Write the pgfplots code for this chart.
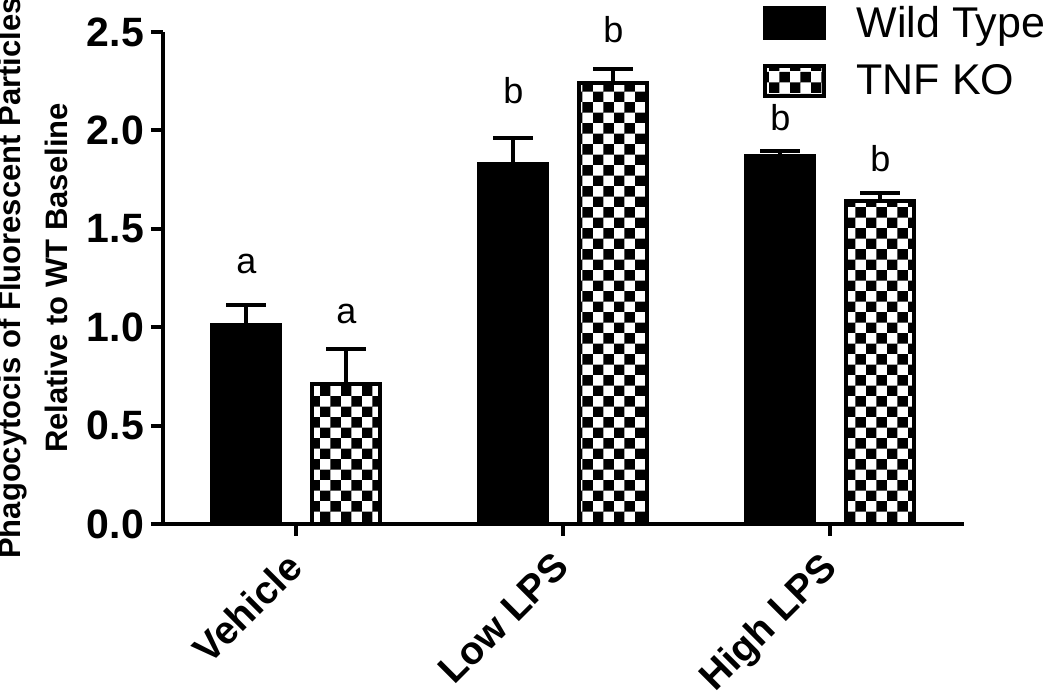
\documentclass[border=0pt]{standalone}
\usepackage{fontspec}
\setmainfont{Liberation Sans}
\usepackage{pgfplots}
\pgfplotsset{compat=1.18}
\usetikzlibrary{patterns}
\pgfdeclarepatternformonly{bigcheck}{\pgfpointorigin}{\pgfqpoint{10.7pt}{10.7pt}}{\pgfqpoint{10.7pt}{10.7pt}}{%
  \pgfpathrectangle{\pgfpointorigin}{\pgfqpoint{5.35pt}{5.35pt}}%
  \pgfpathrectangle{\pgfqpoint{5.35pt}{5.35pt}}{\pgfqpoint{5.35pt}{5.35pt}}%
  \pgfusepath{fill}}
\begin{document}
\begin{tikzpicture}
\begin{axis}[
  scale only axis, width=400.5pt, height=246pt,
  xmin=-0.5, xmax=2.5, ymin=0, ymax=2.5,
  axis x line*=bottom, axis y line*=left,
  axis line style={line width=2pt, black},
  ybar, bar width=34pt,
  clip=false,
  ytick={0,0.5,1,1.5,2,2.5},
  /pgf/number format/assume math mode=true,
  yticklabel style={/pgf/number format/.cd, fixed, fixed zerofill, precision=1},
  tick label style={font=\bfseries\fontsize{20.5}{20.5}\selectfont},
  xtick={0,1,2},
  xticklabels={Vehicle,Low LPS,High LPS},
  xticklabel style={font=\bfseries\fontsize{19.5}{19.5}\selectfont, xshift=-6pt, yshift=-4pt, rotate=45, anchor=north east, inner sep=2pt},
  tick align=outside, major tick length=6pt,
  major tick style={line width=2pt, black},
  ylabel={Phagocytocis of Fluorescent Particles\\Relative to WT Baseline},
  ylabel style={font=\bfseries\fontsize{15.5}{23.5}\selectfont, align=center, at={(axis description cs:-0.163,0.5)}, anchor=center},
  legend style={draw=none, fill=none, at={(rel axis cs:0.748,1.062)}, anchor=north west,
    inner sep=0pt, row sep=8pt, font=\fontsize{21.5}{21.5}\selectfont,
    nodes={inner sep=2pt, anchor=west}},
  legend cell align=left,
  legend image code/.code={\draw[#1, line width=2pt] (0pt,-7.5pt) rectangle (29.5pt,7.5pt); \path (43pt,0pt);},
]
\addplot[bar shift=-25pt, fill=black, draw=black, line width=2pt,
  error bars/.cd, y dir=plus, y explicit,
  error bar style={line width=2pt, black},
  error mark options={rotate=90, mark size=10pt, line width=2pt, black}]
  coordinates {(0,1.01) +- (0,0.105) (1,1.83) +- (0,0.13) (2,1.87) +- (0,0.025)};
\addplot[bar shift=25pt, fill=white, draw=black, line width=2pt, postaction={pattern=bigcheck},
  error bars/.cd, y dir=plus, y explicit,
  error bar style={line width=2pt, black},
  error mark options={rotate=90, mark size=10pt, line width=2pt, black}]
  coordinates {(0,0.71) +- (0,0.18) (1,2.24) +- (0,0.07) (2,1.64) +- (0,0.04)};
\legend{Wild Type, TNF KO}
\begin{scope}[every node/.style={font=\fontsize{18}{18}\selectfont, anchor=base, inner sep=0pt}]
\node at (axis cs:-0.1873,1.274) {a};
\node at (axis cs:0.1873,1.02) {a};
\node at (axis cs:0.8127,2.137) {b};
\node at (axis cs:1.1873,2.447) {b};
\node at (axis cs:1.8127,2.0) {b};
\node at (axis cs:2.1873,1.79) {b};
\end{scope}
\coordinate (bbll) at (rel axis cs:-0.2035,-0.3415);
\coordinate (bbur) at (rel axis cs:1.1074,1.065);
\end{axis}
\pgfresetboundingbox
\path[use as bounding box] (bbll) rectangle (bbur);
\end{tikzpicture}
\end{document}
